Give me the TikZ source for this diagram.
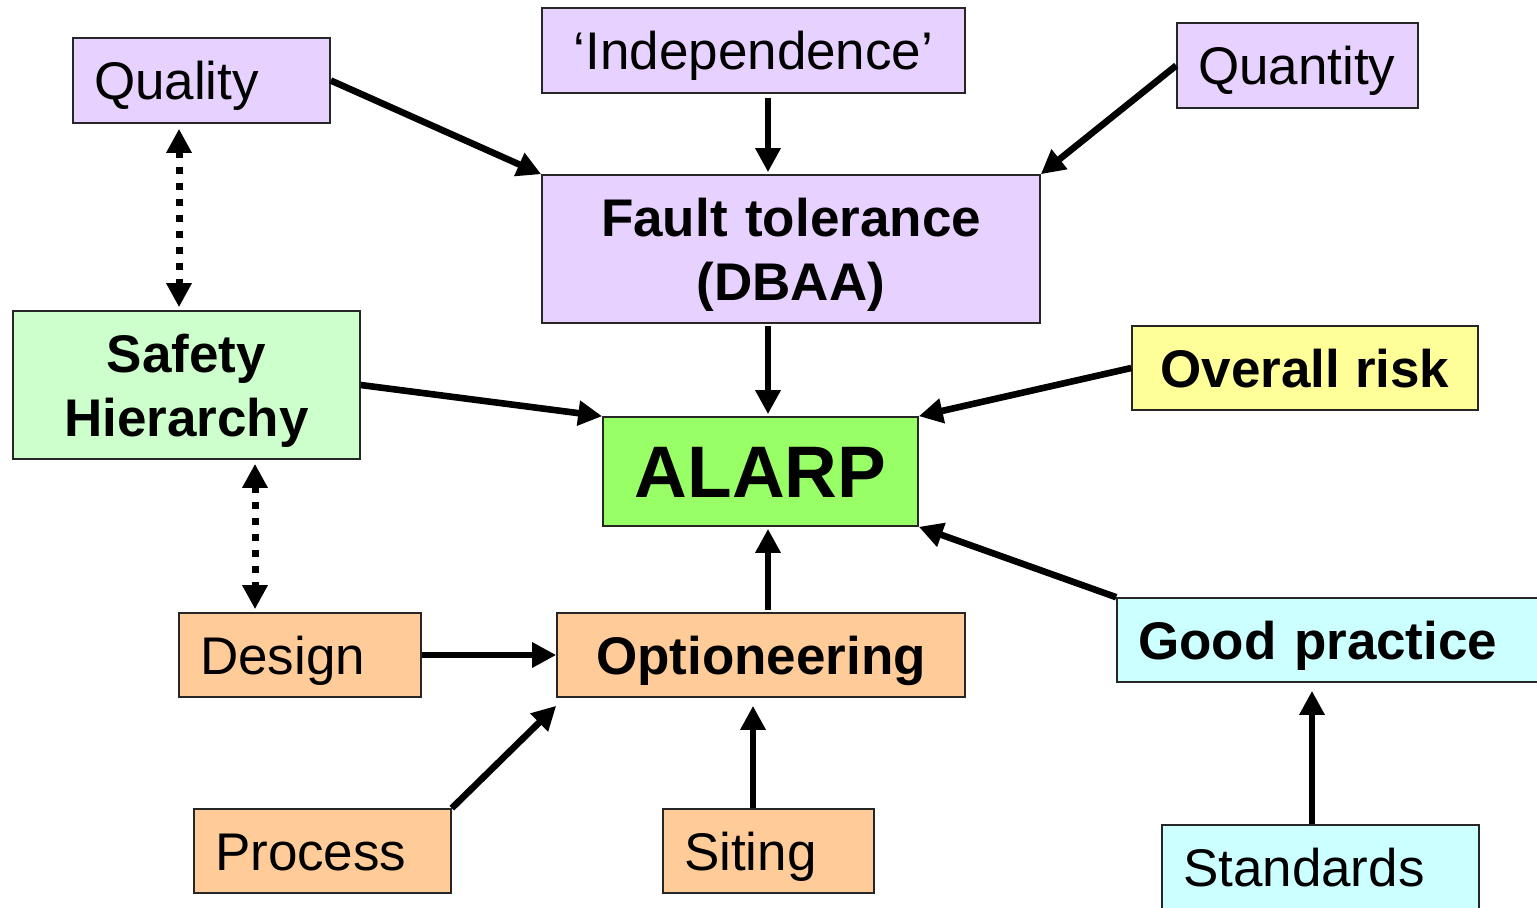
\documentclass[tikz,border=0pt]{standalone}
\usepackage{fontspec}
\setmainfont{Liberation Sans}
\usetikzlibrary{arrows.meta}

\definecolor{lilac}{HTML}{E6D1FF}
\definecolor{mint}{HTML}{CCFFCC}
\definecolor{lemon}{HTML}{FFFF99}
\definecolor{lime}{HTML}{99FF66}
\definecolor{peach}{HTML}{FFCC99}
\definecolor{ice}{HTML}{CCFFFF}

\tikzset{
  box/.style={draw=black!85, line width=0.8pt, inner sep=0pt,
    font=\fontsize{26.5}{30}\selectfont, text height=19pt, text depth=0pt},
  lbox/.style={box, align=left, inner xsep=10.5pt},
  cbox/.style={box, align=center},
  bbox/.style={cbox, font=\fontsize{26.5}{32}\selectfont\bfseries},
  twoline/.style={text width=#1, text depth=32pt},
  link/.style={line width=3.3pt, -{Triangle[length=12pt,width=12pt]}},
  dotlink/.style={line width=3.5pt, dash pattern=on 3.5pt off 4.5pt,
    {Triangle[length=12pt,width=12pt]}-{Triangle[length=12pt,width=12pt]}}
}

\begin{document}
\begin{tikzpicture}[x=0.5pt, y=-0.5pt]
\useasboundingbox (0,0) rectangle (1537,907);

% top row
\node[lbox, fill=lilac, minimum width=128.5pt, minimum height=42.5pt, text width=107.5pt]
  (quality) at (201.5,80.5) {Quality};
\node[cbox, fill=lilac, minimum width=211.5pt, minimum height=42.5pt]
  (indep) at (753.5,50.5) {‘Independence’};
\node[lbox, fill=lilac, minimum width=120.5pt, minimum height=42.5pt, text width=99.5pt]
  (quantity) at (1297.5,65.5) {Quantity};

% middle row
\node[bbox, fill=lilac, minimum width=249pt, minimum height=74pt, twoline=230pt]
  (ft) at (791,249) {Fault tolerance\\(DBAA)};
\node[bbox, fill=mint, minimum width=173.5pt, minimum height=74pt, twoline=160pt]
  (sh) at (186.5,385) {Safety\\Hierarchy};
\node[bbox, fill=lemon, minimum width=173pt, minimum height=42pt]
  (risk) at (1305,368) {Overall risk};
\node[cbox, fill=lime, minimum width=157.5pt, minimum height=54.5pt,
  font=\fontsize{36.5}{40}\selectfont\bfseries, text height=26.1pt]
  (alarp) at (760.5,471.5) {ALARP};

% lower rows
\node[lbox, fill=peach, minimum width=121pt, minimum height=42pt, text width=100pt]
  (design) at (300,655) {Design};
\node[bbox, fill=peach, minimum width=204pt, minimum height=42pt]
  (opt) at (761,655) {Optioneering};
\node[lbox, fill=ice, minimum width=216.5pt, minimum height=42pt, text width=195.5pt,
  font=\fontsize{26.5}{30}\selectfont\bfseries]
  (good) at (1333.5,640) {Good practice};
\node[lbox, fill=peach, minimum width=128.5pt, minimum height=42pt, text width=107.5pt]
  (process) at (322.5,851) {Process};
\node[lbox, fill=peach, minimum width=105.5pt, minimum height=42pt, text width=84.5pt]
  (siting) at (768.5,851) {Siting};
\node[lbox, fill=ice, minimum width=158.5pt, minimum height=42pt, text width=137.5pt]
  (standards) at (1320.5,867) {Standards};

% influences
\draw[link] (quality.east) -- (ft.north west);
\draw[link] ([xshift=7.25pt,yshift=-2pt]indep.south) -- ([xshift=-11.5pt,yshift=1pt]ft.north);
\draw[link] (quantity.west) -- (ft.north east);
\draw[link] ([xshift=-11.5pt,yshift=-1pt]ft.south) -- ([xshift=3.75pt,yshift=1pt]alarp.north);
\draw[link] (sh.east) -- (alarp.north west);
\draw[link] (risk.west) -- (alarp.north east);
\draw[link] (good.north west) -- (alarp.south east);
\draw[link] ([xshift=3.5pt,yshift=1pt]opt.north) -- ([xshift=3.75pt,yshift=-1pt]alarp.south);
\draw[link] (design.east) -- (opt.west);
\draw[link] (process.north east) -- ([yshift=-4pt]opt.south west);
\draw[link] ([xshift=-7.75pt]siting.north) -- ([xshift=-4pt,yshift=-4pt]opt.south);
\draw[link] ([xshift=-4.25pt]standards.north) -- ([xshift=-10.75pt,yshift=-4pt]good.south);

% two-way links
\draw[dotlink] ([xshift=-11.25pt,yshift=-2.5pt]quality.south) -- ([xshift=-3.75pt,yshift=1.5pt]sh.north);
\draw[dotlink] ([xshift=34.25pt,yshift=-2pt]sh.south) -- ([xshift=-22.5pt,yshift=1.5pt]design.north);
\end{tikzpicture}
\end{document}
